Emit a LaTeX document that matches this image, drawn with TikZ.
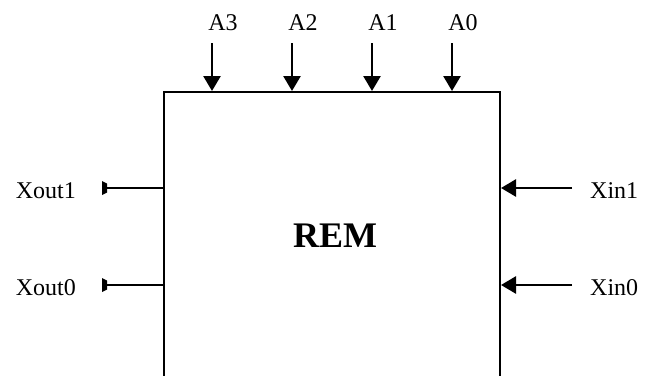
\documentclass[tikz,border=0pt]{standalone}
\usepackage{fontspec}
\setmainfont{Liberation Serif}
\usetikzlibrary{arrows.meta}
\begin{document}
\begin{tikzpicture}[x=1pt,y=-1pt,
  wire/.style={line width=2.6pt},
  inarrow/.style={wire,-{Triangle[length=15pt,width=17pt]}},
  lbl/.style={font=\fontsize{24}{28}\selectfont,inner sep=0pt},
  outtip/.style={fill=black}]
\useasboundingbox (0,0) rectangle (645,375);
% box (open at the bottom, cut by the page)
\coordinate (bl) at (164,385);
\coordinate (tl) at (164,92);
\coordinate (tr) at (500,92);
\coordinate (br) at (500,385);
\draw[line width=2.6pt] (bl) -- (tl) -- (tr) -- (br);
\node[font=\fontsize{36}{40}\selectfont\bfseries,inner sep=0pt] (rem) at (335,236) {REM};
% top inputs
\foreach \n/\x in {3/212,2/292,1/372,0/452}{
  \coordinate (a\n s) at (\x,43);
  \coordinate (a\n e) at (\x,91);
  \draw[inarrow] (a\n s) -- (a\n e);
  \node[lbl,anchor=base] (a\n) at (\x+11,30) {A\n};
}
% right inputs
\foreach \n/\y in {1/188,0/285}{
  \coordinate (xin\n s) at (572,\y);
  \coordinate (xin\n e) at (501,\y);
  \draw[inarrow] (xin\n s) -- (xin\n e);
  \node[lbl,anchor=base west] (xin\n) at (590,\y+10) {Xin\n};
}
% left outputs
\foreach \n/\y in {1/188,0/285}{
  \coordinate (xout\n s) at (164,\y);
  \coordinate (xout\n e) at (106,\y);
  \draw[wire] (xout\n s) -- (xout\n e);
  \fill[outtip] (102,\y-7) -- (107,\y-4.5) -- (107,\y+4.5) -- (102,\y+7) -- cycle;
  \node[lbl,anchor=base east] (xout\n) at (76,\y+10) {Xout\n};
}
\end{tikzpicture}
\end{document}
